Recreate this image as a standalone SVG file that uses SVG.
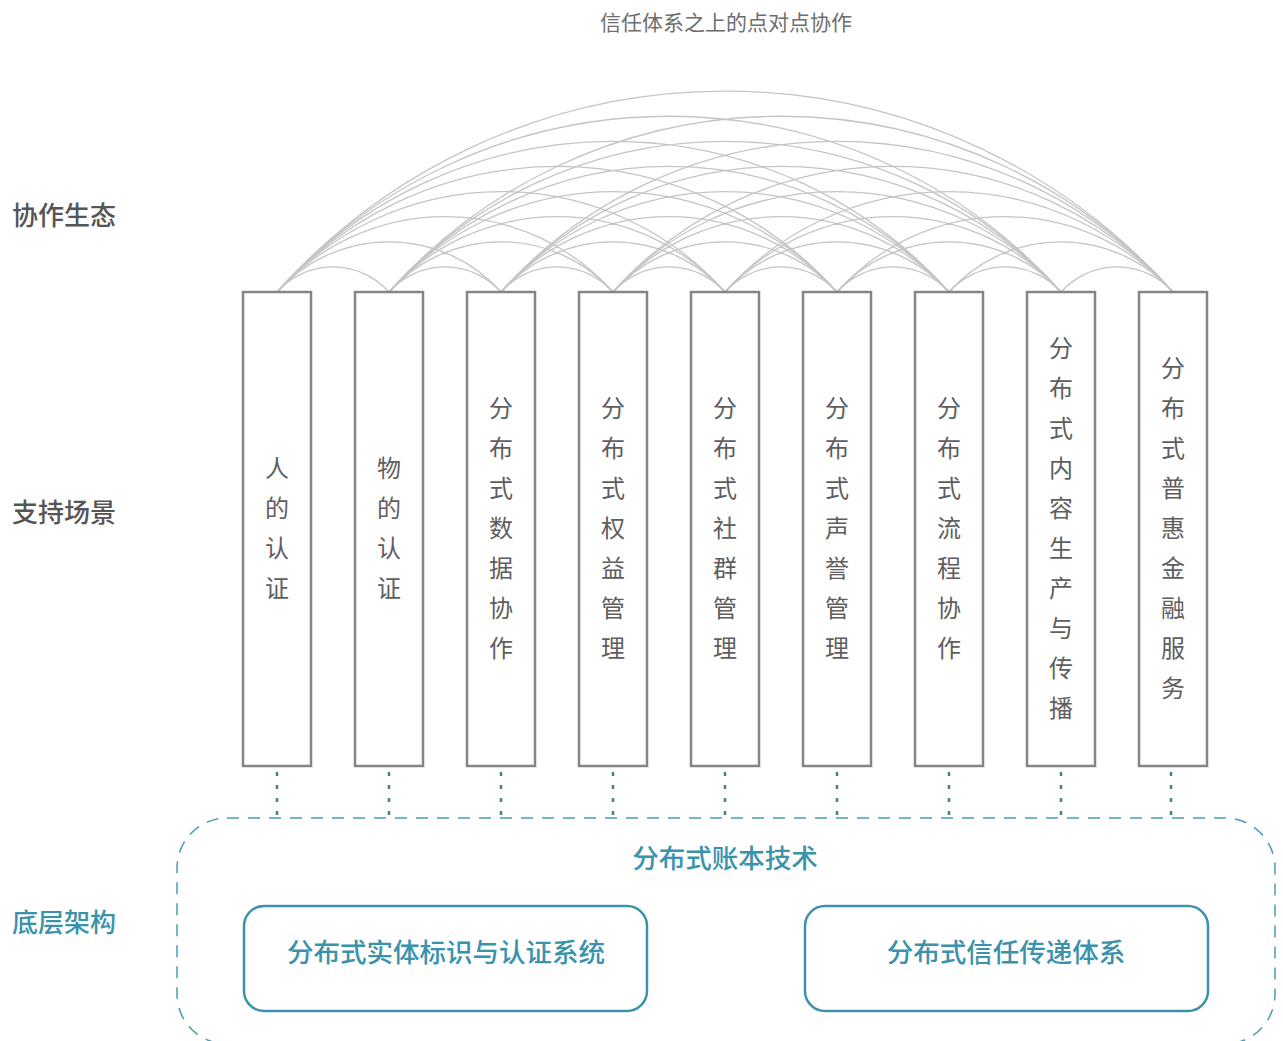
<svg xmlns="http://www.w3.org/2000/svg" width="1283" height="1041" viewBox="0 0 1283 1041">
<style>
text{font-family:"Noto Sans CJK SC","Noto Sans",sans-serif;}
.title{font-size:21px;fill:#6e6e6e;text-anchor:middle;}
.lbl{font-size:26px;fill:#555;font-weight:500;}
.lblt{font-size:26px;fill:#3a93ab;font-weight:500;}
.box{fill:#fff;stroke:#858585;stroke-width:2.5;}
.bt{font-size:24px;fill:#5e5e5e;text-anchor:middle;}
.arc{fill:none;stroke:#c4c4c4;stroke-width:1.3;}
.dot{stroke:#3f8494;stroke-width:2.5;stroke-dasharray:4 9;stroke-linecap:butt;}
.dash{fill:none;stroke:#4a9db3;stroke-width:1.5;stroke-dasharray:12 9;}
.ib{fill:#fff;stroke:#3a93ab;stroke-width:2.5;}
.it{font-size:26.5px;fill:#3a93ab;text-anchor:middle;font-weight:500;}
</style>
<rect width="1283" height="1041" fill="#fff"/>
<text class="title" x="726" y="30">信任体系之上的点对点协作</text>
<text class="lbl" x="12" y="225">协作生态</text>
<text class="lbl" x="12" y="522">支持场景</text>
<text class="lblt" x="12" y="932">底层架构</text>
<g id="connectors">
<g id="arcs">
<path class="arc" d="M277 292A75 75 0 0 1 389 292M389 292A75 75 0 0 1 501 292M501 292A75 75 0 0 1 613 292M613 292A75 75 0 0 1 725 292M725 292A75 75 0 0 1 837 292M837 292A75 75 0 0 1 949 292M949 292A75 75 0 0 1 1061 292M1061 292A75 75 0 0 1 1173 292"/>
<path class="arc" d="M277 292A150 150 0 0 1 501 292M389 292A150 150 0 0 1 613 292M501 292A150 150 0 0 1 725 292M613 292A150 150 0 0 1 837 292M725 292A150 150 0 0 1 949 292M837 292A150 150 0 0 1 1061 292M949 292A150 150 0 0 1 1173 292"/>
<path class="arc" d="M277 292A225 225 0 0 1 613 292M389 292A225 225 0 0 1 725 292M501 292A225 225 0 0 1 837 292M613 292A225 225 0 0 1 949 292M725 292A225 225 0 0 1 1061 292M837 292A225 225 0 0 1 1173 292"/>
<path class="arc" d="M277 292A300 300 0 0 1 725 292M389 292A300 300 0 0 1 837 292M501 292A300 300 0 0 1 949 292M613 292A300 300 0 0 1 1061 292M725 292A300 300 0 0 1 1173 292"/>
<path class="arc" d="M277 292A375 375 0 0 1 837 292M389 292A375 375 0 0 1 949 292M501 292A375 375 0 0 1 1061 292M613 292A375 375 0 0 1 1173 292"/>
<path class="arc" d="M277 292A450 450 0 0 1 949 292M389 292A450 450 0 0 1 1061 292M501 292A450 450 0 0 1 1173 292"/>
<path class="arc" d="M277 292A525 525 0 0 1 1061 292M389 292A525 525 0 0 1 1173 292"/>
<path class="arc" d="M277 292A600 600 0 0 1 1173 292"/>
</g>
<g id="dots">
<line class="dot" x1="277" y1="772" x2="277" y2="818"/>
<line class="dot" x1="389" y1="772" x2="389" y2="818"/>
<line class="dot" x1="501" y1="772" x2="501" y2="818"/>
<line class="dot" x1="613" y1="772" x2="613" y2="818"/>
<line class="dot" x1="725" y1="772" x2="725" y2="818"/>
<line class="dot" x1="837" y1="772" x2="837" y2="818"/>
<line class="dot" x1="949" y1="772" x2="949" y2="818"/>
<line class="dot" x1="1061" y1="772" x2="1061" y2="818"/>
<line class="dot" x1="1171" y1="772" x2="1171" y2="818"/>
</g>
</g>
<g id="n1"><rect class="box" x="243" y="292" width="68" height="474"/><text class="bt"><tspan x="277" y="477">人</tspan><tspan x="277" y="517">的</tspan><tspan x="277" y="557">认</tspan><tspan x="277" y="597">证</tspan></text></g>
<g id="n2"><rect class="box" x="355" y="292" width="68" height="474"/><text class="bt"><tspan x="389" y="477">物</tspan><tspan x="389" y="517">的</tspan><tspan x="389" y="557">认</tspan><tspan x="389" y="597">证</tspan></text></g>
<g id="n3"><rect class="box" x="467" y="292" width="68" height="474"/><text class="bt"><tspan x="501" y="417">分</tspan><tspan x="501" y="457">布</tspan><tspan x="501" y="497">式</tspan><tspan x="501" y="537">数</tspan><tspan x="501" y="577">据</tspan><tspan x="501" y="617">协</tspan><tspan x="501" y="657">作</tspan></text></g>
<g id="n4"><rect class="box" x="579" y="292" width="68" height="474"/><text class="bt"><tspan x="613" y="417">分</tspan><tspan x="613" y="457">布</tspan><tspan x="613" y="497">式</tspan><tspan x="613" y="537">权</tspan><tspan x="613" y="577">益</tspan><tspan x="613" y="617">管</tspan><tspan x="613" y="657">理</tspan></text></g>
<g id="n5"><rect class="box" x="691" y="292" width="68" height="474"/><text class="bt"><tspan x="725" y="417">分</tspan><tspan x="725" y="457">布</tspan><tspan x="725" y="497">式</tspan><tspan x="725" y="537">社</tspan><tspan x="725" y="577">群</tspan><tspan x="725" y="617">管</tspan><tspan x="725" y="657">理</tspan></text></g>
<g id="n6"><rect class="box" x="803" y="292" width="68" height="474"/><text class="bt"><tspan x="837" y="417">分</tspan><tspan x="837" y="457">布</tspan><tspan x="837" y="497">式</tspan><tspan x="837" y="537">声</tspan><tspan x="837" y="577">誉</tspan><tspan x="837" y="617">管</tspan><tspan x="837" y="657">理</tspan></text></g>
<g id="n7"><rect class="box" x="915" y="292" width="68" height="474"/><text class="bt"><tspan x="949" y="417">分</tspan><tspan x="949" y="457">布</tspan><tspan x="949" y="497">式</tspan><tspan x="949" y="537">流</tspan><tspan x="949" y="577">程</tspan><tspan x="949" y="617">协</tspan><tspan x="949" y="657">作</tspan></text></g>
<g id="n8"><rect class="box" x="1027" y="292" width="68" height="474"/><text class="bt"><tspan x="1061" y="357">分</tspan><tspan x="1061" y="397">布</tspan><tspan x="1061" y="437">式</tspan><tspan x="1061" y="477">内</tspan><tspan x="1061" y="517">容</tspan><tspan x="1061" y="557">生</tspan><tspan x="1061" y="597">产</tspan><tspan x="1061" y="637">与</tspan><tspan x="1061" y="677">传</tspan><tspan x="1061" y="717">播</tspan></text></g>
<g id="n9"><rect class="box" x="1139" y="292" width="68" height="474"/><text class="bt"><tspan x="1173" y="377">分</tspan><tspan x="1173" y="417">布</tspan><tspan x="1173" y="457">式</tspan><tspan x="1173" y="497">普</tspan><tspan x="1173" y="537">惠</tspan><tspan x="1173" y="577">金</tspan><tspan x="1173" y="617">融</tspan><tspan x="1173" y="657">服</tspan><tspan x="1173" y="697">务</tspan></text></g>
<g id="ledger">
<rect class="dash" x="177" y="818" width="1098" height="226" rx="50" ry="50"/>
<text class="it" x="725" y="868">分布式账本技术</text>
</g>
<g id="identity"><rect class="ib" x="244" y="906" width="403" height="105" rx="20"/><text class="it" x="446" y="962">分布式实体标识与认证系统</text></g>
<g id="trust"><rect class="ib" x="805" y="906" width="403" height="105" rx="20"/><text class="it" x="1006" y="962">分布式信任传递体系</text></g>
</svg>
